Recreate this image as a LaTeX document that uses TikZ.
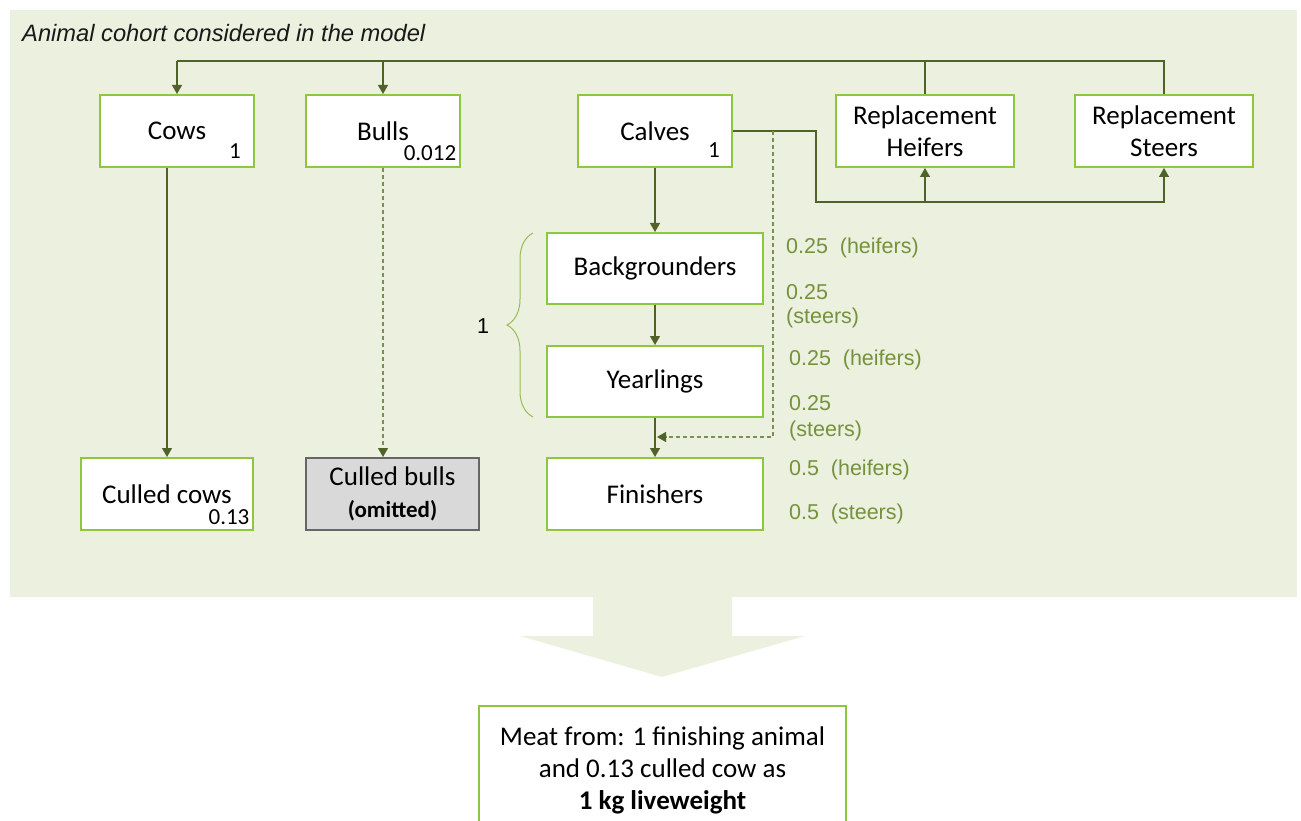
\documentclass[tikz,border=0pt]{standalone}
\usepackage{fontspec}
\setmainfont{Carlito}
\newfontfamily\arial{Liberation Sans}
\usetikzlibrary{arrows.meta,decorations.pathreplacing,calc}
\definecolor{bgg}{HTML}{EBF1DE}
\definecolor{boxg}{HTML}{8DC63F}
\definecolor{connc}{HTML}{4F6228}
\definecolor{dashc}{HTML}{7A8F52}
\definecolor{labc}{HTML}{76923C}
\definecolor{brc}{HTML}{9BBB59}
\definecolor{gfill}{HTML}{D9D9D9}
\definecolor{gdraw}{HTML}{666666}
\begin{document}
\begin{tikzpicture}[x=1pt,y=-1pt,
  box/.style={draw=boxg,line width=2pt,fill=white,inner sep=0pt,minimum width=#1,minimum height=72pt,font=\fontsize{27}{32}\selectfont,align=center},
  box/.default=154pt,
  subnum/.style={inner sep=0pt,font=\fontsize{23}{26}\selectfont},
  conn/.style={draw=connc,line width=1.3pt},
  arr/.style={conn,-{Triangle[length=9pt,width=10pt]}},
  dconn/.style={draw=dashc,line width=1.1pt,dash pattern=on 4pt off 3pt},
  darr/.style={dconn,-{Triangle[length=9pt,width=10pt,color=connc,fill=connc]}},
  glab/.style={anchor=west,inner sep=0pt,text=labc,font=\arial\fontsize{21.5}{25}\selectfont}
]
\useasboundingbox (0,0) rectangle (1301,821);
\clip (0,0) rectangle (1301,821);
% background and big arrow
\fill[bgg] (10,10) rectangle (1297,597);
\fill[bgg] (593,596) -- (593,636) -- (520,636) -- (662,677) -- (805,636) -- (732,636) -- (732,596) -- cycle;
\node[anchor=west,inner sep=0pt,font=\arial\itshape\fontsize{23.7}{28}\selectfont,text=black!90] (title) at (22,33) {Animal cohort considered in the model};

% boxes
\node[box] (cows) at (177,131) {Cows};
\node[box] (bulls) at (383,131) {Bulls};
\node[box] (calves) at (655,131) {Calves};
\node[box=178pt] (rh) at (925,131) {Replacement\\Heifers};
\node[box=178pt] (rs) at (1164,131) {Replacement\\Steers};
\node[box=216pt,minimum height=71pt] (back) at (655,268.5) {Backgrounders};
\node[box=216pt,minimum height=71pt] (year) at (655,381.5) {Yearlings};
\node[box=216pt] (fin) at (655,494) {Finishers};
\node[box=172pt] (ccows) at (167,494) {Culled cows};
\node[box=173pt,draw=gdraw,fill=gfill] (cbulls) at (392.5,494) {Culled bulls\\[0pt]{\fontsize{23}{26}\selectfont\bfseries (omitted)}};
\node[box=367pt,minimum height=128pt] (meat) at (662.5,770) {Meat from: 1 finishing animal\\and 0.13 culled cow as\\\textbf{1 kg liveweight}};

% sub numbers
\node[subnum] (ncows) at (235,151) {1};
\node[subnum] (nbulls) at (430,153) {0.012};
\node[subnum] (ncalves) at (714,150) {1};
\node[subnum] (nccows) at (229,517) {0.13};

% top feedback line
\coordinate (topL) at (177,61);
\draw[conn] (rs.north) |- (topL);
\draw[conn] (rh.north) -- (rh.north |- topL);
\draw[arr] (topL) -- (cows.north);
\draw[arr] (bulls.north |- topL) -- (bulls.north);

% calves to replacements
\coordinate (c1) at (816,131);
\coordinate (c2) at (816,202);
\draw[arr] (calves.east) -- (c1) -- (c2) -| (rs.south);
\draw[arr] (c2 -| rh.south) -- (rh.south);

% main chain
\draw[arr] (calves.south) -- (back.north);
\draw[arr] (back.south) -- (year.north);
\draw[arr] (year.south) -- (fin.north);
\draw[arr] (cows.south -| ccows.north) -- (ccows.north);
\draw[darr] (bulls.south) -- (bulls.south |- cbulls.north);

% dashed bypass
\coordinate (d1) at (773,131);
\coordinate (d2) at (657,437);
\draw[darr] (d1) |- (d2);

% brace
\draw[brc,line width=1pt,decorate,decoration={brace,amplitude=26pt,aspect=0.5}] (533,417) -- (533,233);
\node[inner sep=0pt,font=\arial\fontsize{21.5}{25}\selectfont] (one) at (483,326) {1};

% green labels
\node[glab] (l1) at (786,248) {0.25\hspace{0.55em}(heifers)};
\node[glab] (l2) at (786,292) {0.25};
\node[glab] (l3) at (786,318) {(steers)};
\node[glab] (l4) at (789,360) {0.25\hspace{0.55em}(heifers)};
\node[glab] (l5) at (789,403) {0.25};
\node[glab] (l6) at (789,431) {(steers)};
\node[glab] (l7) at (789,470) {0.5\hspace{0.55em}(heifers)};
\node[glab] (l8) at (789,514) {0.5\hspace{0.55em}(steers)};
\end{tikzpicture}
\end{document}
